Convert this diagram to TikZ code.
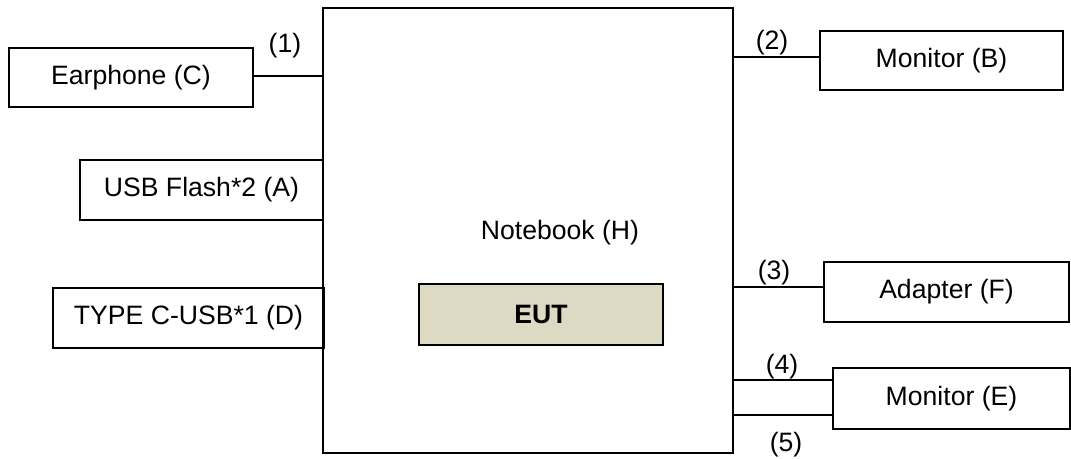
\documentclass[tikz,border=0pt]{standalone}
\usepackage{fontspec}
\setmainfont{Liberation Sans}
\definecolor{eutfill}{HTML}{DDD9C3}
\begin{document}
\begin{tikzpicture}[x=1pt,y=-1pt,
  txt/.style={font=\fontsize{26.6}{30}\selectfont},
  box/.style={draw, line width=1.8pt, inner sep=0pt, outer sep=0pt, anchor=north west, txt},
  lbl/.style={inner sep=0pt, txt},
  wire/.style={line width=1.6pt}]
\useasboundingbox (0,0) rectangle (1071,458);
% main notebook box
\node[box, line width=2.6pt, minimum width=410pt, minimum height=445pt] (nb) at (323,8) {};
\node[lbl] (nbl) at (560,233) {Notebook (H)};
\node[box, fill=eutfill, minimum width=244pt, minimum height=61pt, font=\fontsize{26.6}{30}\selectfont\bfseries] (eut) at (419,284) {EUT};
% left devices
\node[box, minimum width=244pt, minimum height=59pt] (ear) at (9,48) {Earphone (C)};
\node[box, minimum width=243pt, minimum height=60pt] (usb) at (80,160) {USB Flash*2 (A)};
\node[box, minimum width=271pt, minimum height=60pt] (tyc) at (53,288) {TYPE C-USB*1 (D)};
% right devices
\node[box, minimum width=243pt, minimum height=59pt] (monb) at (820,31) {Monitor (B)};
\node[box, minimum width=245pt, minimum height=60pt] (adp) at (824,262) {Adapter (F)};
\node[box, minimum width=237pt, minimum height=61pt] (mone) at (833,368) {Monitor (E)};
% connectors
\draw[wire] ([yshift=1.5pt]ear.east) -- ([yshift=1.5pt]ear.east -| nb.west);
\draw[wire] ([yshift=3.5pt]monb.west) -- ([yshift=3.5pt]monb.west -| nb.east);
\draw[wire] ([yshift=5pt]adp.west) -- ([yshift=5pt]adp.west -| nb.east);
\draw[wire] ([yshift=18.5pt]mone.west) -- ([yshift=18.5pt]mone.west -| nb.east);
\draw[wire] ([yshift=-16.5pt]mone.west) -- ([yshift=-16.5pt]mone.west -| nb.east);
% labels
\node[lbl] (l1) at (285,46) {(1)};
\node[lbl] (l2) at (772,43) {(2)};
\node[lbl] (l3) at (774,273) {(3)};
\node[lbl] (l4) at (782,367) {(4)};
\node[lbl] (l5) at (786,445) {(5)};
\end{tikzpicture}
\end{document}
